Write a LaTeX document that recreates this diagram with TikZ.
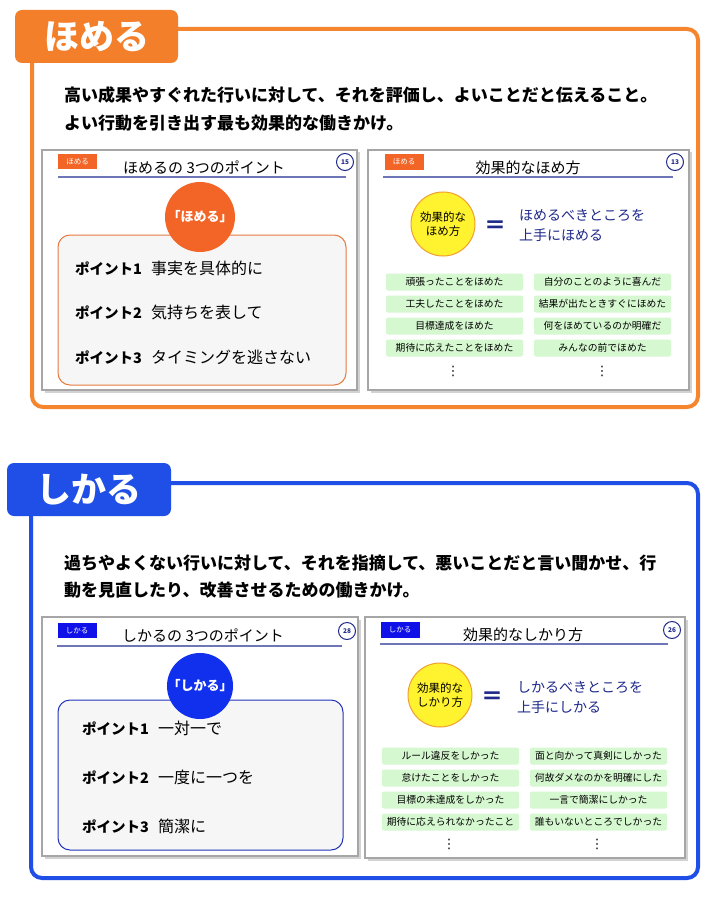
\documentclass[tikz,border=0pt]{standalone}
\usepackage{fontspec}
\setmainfont{Noto Sans CJK JP}
\newfontfamily\symfont{DejaVu Sans}
\usetikzlibrary{shadows}
\definecolor{hOrange}{HTML}{F5852F}
\definecolor{hTab}{HTML}{F47F2A}
\definecolor{hTag}{HTML}{F26526}
\definecolor{hEdge}{HTML}{E87A3F}
\definecolor{sBlue}{HTML}{1F4FE6}
\definecolor{sTag}{HTML}{1010E8}
\definecolor{sCirc}{HTML}{1030EE}
\definecolor{sEdge}{HTML}{2233BB}
\definecolor{navy}{HTML}{1F2A8A}
\definecolor{uline}{HTML}{6F76B8}
\definecolor{gbox}{HTML}{D6F8D0}
\definecolor{ybox}{HTML}{FFF22E}
\definecolor{yedge}{HTML}{F0A030}
\definecolor{pfill}{HTML}{F6F6F6}
\newcommand{\ptlabel}[1]{{\bfseries\fontsize{14.5}{18}\selectfont #1}\hspace{9pt}}
\begin{document}
\begin{tikzpicture}[x=1pt,y=-1pt,
  frameline/.style={line width=4pt, rounded corners=11pt},
  tabbox/.style={rounded corners=7pt, inner sep=0pt, text=white, font=\bfseries\fontsize{35}{40}\selectfont},
  desc/.style={anchor=west, inner sep=0pt, font=\bfseries\fontsize{17}{18}\selectfont},
  slide/.style={draw=black!35, line width=1.3pt, fill=white, inner sep=0pt,
    drop shadow={shadow xshift=2.5pt, shadow yshift=-2.5pt, opacity=0.35}},
  tagbox/.style={minimum width=39pt, minimum height=15.5pt, inner sep=0pt, text=white, font=\fontsize{7.5}{8}\selectfont},
  titletxt/.style={inner sep=0pt, font=\fontsize{15}{16}\selectfont},
  ulinestyle/.style={draw=uline, line width=2.5pt},
  numc/.style={circle, draw=navy, line width=1pt, fill=white, minimum size=17pt, inner sep=0pt, text=navy, font=\bfseries\fontsize{6.5}{7}\selectfont},
  pbox/.style={rounded corners=12pt, fill=pfill, line width=1pt, inner sep=0pt},
  bigc/.style={circle, minimum size=70pt, inner sep=0pt, text=white, font=\bfseries\fontsize{13}{14}\selectfont},
  ptxt/.style={anchor=west, inner sep=0pt, font=\fontsize{16}{18}\selectfont},
  ycirc/.style={circle, fill=ybox, draw=yedge, line width=1pt, minimum size=64pt, inner sep=0pt, align=center, font=\fontsize{11.5}{14.5}\selectfont},
  eqsign/.style={inner sep=0pt, text=navy, font=\bfseries\fontsize{22}{22}\selectfont},
  bluetxt/.style={anchor=west, inner sep=0pt, align=left, text=navy, font=\fontsize{14}{19.5}\selectfont},
  gb/.style={fill=gbox, rounded corners=2pt, minimum width=137pt, minimum height=17pt, inner sep=0pt, font=\fontsize{9.8}{10}\selectfont},
  dotsym/.style={inner sep=0pt, font=\symfont\fontsize{13}{13}\selectfont}
]
\useasboundingbox[fill=white] (0,0) rectangle (726,901);

% ===== ほめる section =====
\draw[frameline, draw=hOrange] (32,29) rectangle (698,407);
\node[tabbox, fill=hTab, minimum width=163pt, minimum height=53pt] (htab) at (96.5,36.5) {ほめる};
\node[desc] (hd1) at (64,95) {高い成果やすぐれた行いに対して、それを評価し、よいことだと伝えること。};
\node[desc] (hd2) at (64,123) {よい行動を引き出す最も効果的な働きかけ。};

% left slide
\node[slide, minimum width=315pt, minimum height=240pt] (hs1) at (199.5,270) {};
\node[tagbox, fill=hTag] (htag1) at (77.5,161.5) {ほめる};
\node[titletxt] (htitle1) at (204,167) {ほめるの 3つのポイント};
\draw[ulinestyle] (58,177) -- (346,177);
\node[numc] (hnum1) at (345,162) {15};
\node[pbox, draw=hEdge, minimum width=288pt, minimum height=150pt] (hpbox) at (202,310) {};
\node[bigc, fill=hTag] (hcirc) at (200,217) {「ほめる」};
\node[ptxt] (hp1) at (75,268) {\ptlabel{ポイント1}事実を具体的に};
\node[ptxt] (hp2) at (75,312) {\ptlabel{ポイント2}気持ちを表して};
\node[ptxt] (hp3) at (75,357) {\ptlabel{ポイント3}タイミングを逃さない};

% right slide
\node[slide, minimum width=321pt, minimum height=240pt] (hs2) at (528.5,270) {};
\node[tagbox, fill=hTag] (htag2) at (404,162) {ほめる};
\node[titletxt] (htitle2) at (528,168) {効果的なほめ方};
\draw[ulinestyle] (383,177) -- (673,177);
\node[numc] (hnum2) at (675,162) {13};
\node[ycirc] (hyc) at (443,224) {効果的な\\ほめ方};
\node[eqsign] (heq) at (495,227) {＝};
\node[bluetxt] (hbt) at (519,225.5) {ほめるべきところを\\上手にほめる};
\node[gb] (hg11) at (454.5,282) {頑張ったことをほめた};
\node[gb] (hg12) at (454.5,304) {工夫したことをほめた};
\node[gb] (hg13) at (454.5,326) {目標達成をほめた};
\node[gb] (hg14) at (454.5,348) {期待に応えたことをほめた};
\node[gb] (hg21) at (602.5,282) {自分のことのように喜んだ};
\node[gb] (hg22) at (602.5,304) {結果が出たときすぐにほめた};
\node[gb] (hg23) at (602.5,326) {何をほめているのか明確だ};
\node[gb] (hg24) at (602.5,348) {みんなの前でほめた};
\node[dotsym] (hdots1) at (453,371) {⋮};
\node[dotsym] (hdots2) at (602,371) {⋮};

% ===== しかる section =====
\draw[frameline, draw=sBlue] (31,483) rectangle (698,878);
\node[tabbox, fill=sBlue, minimum width=164pt, minimum height=53pt] (stab) at (89,489.5) {しかる};
\node[desc] (sd1) at (64,563) {過ちやよくない行いに対して、それを指摘して、悪いことだと言い聞かせ、行};
\node[desc] (sd2) at (64,590) {動を見直したり、改善させるための働きかけ。};

% left slide
\node[slide, minimum width=316pt, minimum height=239pt] (ss1) at (200,736.5) {};
\node[tagbox, fill=sTag] (stag1) at (77,630.5) {しかる};
\node[titletxt] (stitle1) at (203,636) {しかるの 3つのポイント};
\draw[ulinestyle] (57,646) -- (342,646);
\node[numc] (snum1) at (347,631) {28};
\node[pbox, draw=sEdge, minimum width=285pt, minimum height=150pt] (spbox) at (200.5,775) {};
\node[bigc, fill=sCirc, minimum size=64pt] (scirc) at (200,686) {「しかる」};
\node[ptxt] (sp1) at (82,728) {\ptlabel{ポイント1}一対一で};
\node[ptxt] (sp2) at (82,777) {\ptlabel{ポイント2}一度に一つを};
\node[ptxt] (sp3) at (82,826) {\ptlabel{ポイント3}簡潔に};

% right slide
\node[slide, minimum width=320pt, minimum height=241pt] (ss2) at (525,737.5) {};
\node[tagbox, fill=sTag] (stag2) at (400,630) {しかる};
\node[titletxt] (stitle2) at (523,635) {効果的なしかり方};
\draw[ulinestyle] (380,644) -- (668,644);
\node[numc] (snum2) at (672,630) {26};
\node[ycirc] (syc) at (440,695) {効果的な\\しかり方};
\node[eqsign] (seq) at (492,698) {＝};
\node[bluetxt] (sbt) at (517,697.5) {しかるべきところを\\上手にしかる};
\node[gb] (sg11) at (450.5,756) {ルール違反をしかった};
\node[gb] (sg12) at (450.5,778) {怠けたことをしかった};
\node[gb] (sg13) at (450.5,800) {目標の未達成をしかった};
\node[gb] (sg14) at (450.5,822) {期待に応えられなかったこと};
\node[gb] (sg21) at (598.5,756) {面と向かって真剣にしかった};
\node[gb] (sg22) at (598.5,778) {何故ダメなのかを明確にした};
\node[gb] (sg23) at (598.5,800) {一言で簡潔にしかった};
\node[gb] (sg24) at (598.5,822) {誰もいないところでしかった};
\node[dotsym] (sdots1) at (449,844) {⋮};
\node[dotsym] (sdots2) at (597,844) {⋮};
\end{tikzpicture}
\end{document}
